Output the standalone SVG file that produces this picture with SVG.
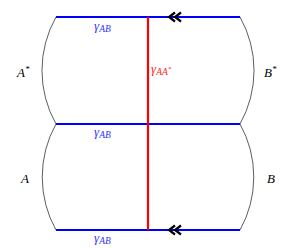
<svg xmlns="http://www.w3.org/2000/svg" width="290" height="248" viewBox="0 0 290 248">
<style>
.side{fill:none;stroke:#333;stroke-width:0.8}
.blue{stroke:#0000ff;stroke-width:2.2;fill:none}
.red{stroke:#ff0000;stroke-width:2.2;fill:none}
.chev{fill:none;stroke:#000;stroke-width:2.2;stroke-linejoin:miter}
.lbl{font-family:"Liberation Serif",serif;font-style:italic;font-size:13px;fill:#000}
.g{font-family:"Liberation Serif",serif;font-style:italic;font-size:13px;fill:#3333ff}
.gr{font-family:"Liberation Serif",serif;font-style:italic;font-size:13px;fill:#ff2222}
.sub{font-size:9.5px}
</style>
<defs>
<path id="dchev" class="chev" d="M6,-4.5 L0,0 L6,4.5 M12,-4.5 L6,0 L12,4.5"/>
</defs>
<g id="sides">
<path class="side" d="M56,17 A109,109 0 0 0 56,124"/>
<path class="side" d="M56,124 A109,109 0 0 0 56,230"/>
<path class="side" d="M240,17 A109,109 0 0 1 240,124"/>
<path class="side" d="M240,124 A109,109 0 0 1 240,230"/>
</g>
<g id="connectors">
<line class="blue" x1="56" y1="17" x2="240" y2="17"/>
<line class="blue" x1="56" y1="124" x2="240" y2="124"/>
<line class="blue" x1="56" y1="230" x2="240" y2="230"/>
<line class="red" x1="148" y1="17" x2="148" y2="230"/>
<use href="#dchev" x="169" y="17"/>
<use href="#dchev" x="169" y="230"/>
</g>
<g id="labels">
<text class="g" x="94" y="30">γ<tspan class="sub" dy="1.5">AB</tspan></text>
<text class="g" x="94" y="136">γ<tspan class="sub" dy="1.5">AB</tspan></text>
<text class="g" x="94" y="242">γ<tspan class="sub" dy="1.5">AB</tspan></text>
<text class="gr" x="151" y="73">γ<tspan class="sub" dy="1.5">AA</tspan><tspan font-size="7" dy="-4">*</tspan></text>
<text class="lbl" x="17" y="77">A<tspan font-size="9" dy="-5">*</tspan></text>
<text class="lbl" x="264" y="77">B<tspan font-size="9" dy="-5">*</tspan></text>
<text class="lbl" x="21" y="183">A</text>
<text class="lbl" x="267" y="183">B</text>
</g>
</svg>
